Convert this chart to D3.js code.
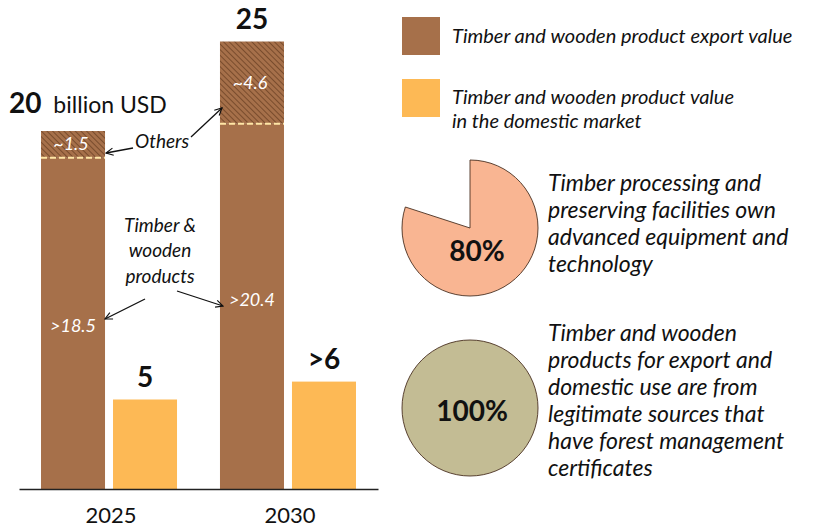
<!DOCTYPE html>
<html><head><meta charset="utf-8">
<script src="https://cdn.jsdelivr.net/npm/d3@7"></script>
<style>
body{margin:0;background:#fff;}
text{font-family:"Lato","Open Sans",sans-serif;}
</style></head>
<body><svg id="c" width="825" height="530"></svg>
<script>
// ---- data ----
const years = ["2025", "2030"];
const series = ["export", "domestic"];
const woodValues = [18.5, 20.4];
const otherValues = [1.5, 4.6];
const exportTotals = [20, 25];
const domesticValues = [5, 6];
const woodLabels = [">18.5", ">20.4"];
const otherLabels = ["~1.5", "~4.6"];
const totalLabels = ["20", "25"];
const domesticLabels = ["5", ">6"];
const legendItems = ["Timber and wooden product export value", "Timber and wooden product value|in the domestic market"];
const pieValues = [80, 20];
const pieLabel = "80%";
const pieText = ["Timber processing and", "preserving facilities own", "advanced equipment and", "technology"];
const circleValue = [100];
const circleLabel = "100%";
const circleText = ["Timber and wooden", "products for export and", "domestic use are from", "legitimate sources that", "have forest management", "certificates"];

const C_BROWN = "#A6704A", C_HATCH = "#6E4325", C_YELLOW = "#FDB955", C_PIE = "#F9B592", C_CIRC = "#C3BC94";

const svg = d3.select("#c");
svg.append("rect").attr("width", 825).attr("height", 530).attr("fill", "#fff");

const defs = svg.append("defs");
const pat = defs.append("pattern").attr("id", "hatch").attr("patternUnits", "userSpaceOnUse")
  .attr("width", 4).attr("height", 4).attr("patternTransform", "rotate(-45)");
pat.append("rect").attr("width", 4).attr("height", 4).attr("fill", C_BROWN);
pat.append("line").attr("x1", 0).attr("y1", 0).attr("x2", 0).attr("y2", 4)
  .attr("stroke", C_HATCH).attr("stroke-width", 1.6);
defs.append("marker").attr("id", "arr").attr("viewBox", "0 0 10 10").attr("refX", 9).attr("refY", 5)
  .attr("markerWidth", 9).attr("markerHeight", 9).attr("markerUnits", "userSpaceOnUse").attr("orient", "auto")
  .append("path").attr("d", "M1,1 L9,5 L1,9").attr("fill", "none").attr("stroke", "#111").attr("stroke-width", 1.3);

// ---- scales ----
const x0 = d3.scaleBand().domain(years).range([19, 378]).paddingInner(0.24).paddingOuter(0.123);
const x1 = d3.scaleBand().domain(series).range([0, x0.bandwidth()]).paddingInner(0.111);
const y = d3.scaleLinear().domain([0, 25]).range([489, 41.5]);

const g = svg.append("g");
// export bars: wood part
g.selectAll(".wood").data(years).join("rect")
  .attr("x", d => x0(d) + x1("export")).attr("width", x1.bandwidth())
  .attr("y", (d, i) => y(woodValues[i])).attr("height", (d, i) => y(0) - y(woodValues[i]))
  .attr("fill", C_BROWN);
// others part hatched
g.selectAll(".oth").data(years).join("rect")
  .attr("x", d => x0(d) + x1("export")).attr("width", x1.bandwidth())
  .attr("y", (d, i) => y(woodValues[i] + otherValues[i])).attr("height", (d, i) => y(woodValues[i]) - y(woodValues[i] + otherValues[i]))
  .attr("fill", "url(#hatch)");
g.selectAll(".dash").data(years).join("line")
  .attr("x1", d => x0(d) + x1("export")).attr("x2", d => x0(d) + x1("export") + x1.bandwidth())
  .attr("y1", (d, i) => y(woodValues[i])).attr("y2", (d, i) => y(woodValues[i]))
  .attr("stroke", "#FFE6A6").attr("stroke-width", 2).attr("stroke-dasharray", "6,3");
// domestic
g.selectAll(".dom").data(years).join("rect")
  .attr("x", d => x0(d) + x1("domestic")).attr("width", x1.bandwidth())
  .attr("y", (d, i) => y(domesticValues[i])).attr("height", (d, i) => y(0) - y(domesticValues[i]))
  .attr("fill", C_YELLOW);

// axis
const ax = svg.append("g").attr("transform", `translate(0,${y(0)})`)
  .call(d3.axisBottom(x0).tickSize(0).tickPadding(18));
ax.select(".domain").attr("stroke", "#222").attr("stroke-width", 1.5);
ax.selectAll(".tick text").attr("font-size", 22).attr("fill", "#111").attr("font-family", "Lato, sans-serif").attr("dx", 2);

// value labels
const ecx = d => x0(d) + x1("export") + x1.bandwidth() / 2;
const dcx = d => x0(d) + x1("domestic") + x1.bandwidth() / 2;
g.selectAll(".wl").data(years).join("text")
  .attr("x", ecx).attr("y", (d, i) => i === 0 ? 332 : 306)
  .attr("text-anchor", "middle").attr("fill", "#fff").attr("font-style", "italic").attr("font-size", 18)
  .text((d, i) => woodLabels[i]);
g.selectAll(".ol").data(years).join("text")
  .attr("x", d => ecx(d) - 2).attr("y", (d, i) => (y(woodValues[i]) + y(woodValues[i] + otherValues[i])) / 2 + 6)
  .attr("text-anchor", "middle").attr("fill", "#fff").attr("font-style", "italic").attr("font-size", 18)
  .text((d, i) => otherLabels[i]);
// totals
const t0 = g.append("text").attr("x", 9).attr("y", y(exportTotals[0]) - 18).attr("fill", "#111");
t0.append("tspan").attr("font-weight", "bold").attr("font-size", 28).text(totalLabels[0]);
t0.append("tspan").attr("font-size", 23).attr("dx", 6).text(" billion USD");
g.append("text").attr("x", ecx(years[1])).attr("y", y(exportTotals[1]) - 13)
  .attr("text-anchor", "middle").attr("font-weight", "bold").attr("font-size", 28).attr("fill", "#111").text(totalLabels[1]);
g.selectAll(".dl").data(years).join("text")
  .attr("x", dcx).attr("y", (d, i) => y(domesticValues[i]) - 13)
  .attr("text-anchor", "middle").attr("font-weight", "bold").attr("font-size", 28).attr("fill", "#111")
  .text((d, i) => domesticLabels[i]);

// annotations
const ann = svg.append("g").attr("fill", "#111").attr("font-style", "italic").attr("font-size", 19);
ann.append("text").attr("x", 135).attr("y", 148).text("Others");
[["Timber &", 232], ["wooden", 257], ["products", 283]].forEach(([t, yy]) =>
  ann.append("text").attr("x", 160).attr("y", yy).attr("text-anchor", "middle").text(t));
const arrows = [[133, 148, 106, 153], [191, 137, 222, 108], [145, 299, 105, 319], [177, 291, 223, 306]];
svg.append("g").selectAll("line").data(arrows).join("line")
  .attr("x1", d => d[0]).attr("y1", d => d[1]).attr("x2", d => d[2]).attr("y2", d => d[3])
  .attr("stroke", "#111").attr("stroke-width", 1.3).attr("marker-end", "url(#arr)");

// legend
const lg = svg.append("g");
const lgColors = [C_BROWN, C_YELLOW];
const lgY = [17, 79];
legendItems.forEach((t, i) => {
  lg.append("rect").attr("x", 402).attr("y", lgY[i]).attr("width", 38).attr("height", 38).attr("fill", lgColors[i]);
  t.split("|").forEach((ln, j) =>
    lg.append("text").attr("x", 452).attr("y", lgY[i] + 26 + (i === 0 ? 0 : -1) + j * 24)
      .attr("font-style", "italic").attr("font-size", 20).attr("fill", "#111").text(ln));
});

// pie
const pcx = 470, pcy = 228, r = 68;
const pie = d3.pie().sort(null)(pieValues);
const arc = d3.arc().innerRadius(0).outerRadius(r);
svg.append("path").attr("transform", `translate(${pcx},${pcy})`).attr("d", arc(pie[0]))
  .attr("fill", C_PIE).attr("stroke", "#4a3020").attr("stroke-width", 0.9);
svg.append("text").attr("x", pcx + 7).attr("y", 261).attr("text-anchor", "middle")
  .attr("font-weight", "bold").attr("font-size", 28).attr("fill", "#111").text(pieLabel);
pieText.forEach((t, i) => svg.append("text").attr("x", 548).attr("y", 191 + i * 27)
  .attr("font-style", "italic").attr("font-size", 23).attr("fill", "#111").text(t));

// full circle (100%)
const ccx = 470, ccy = 408;
const pie2 = d3.pie()(circleValue);
svg.append("path").attr("transform", `translate(${ccx},${ccy})`).attr("d", arc(pie2[0]))
  .attr("fill", C_CIRC).attr("stroke", "#4a3020").attr("stroke-width", 0.9);
svg.append("text").attr("x", ccx + 2).attr("y", 421).attr("text-anchor", "middle")
  .attr("font-weight", "bold").attr("font-size", 28).attr("fill", "#111").text(circleLabel);
circleText.forEach((t, i) => svg.append("text").attr("x", 548).attr("y", 341 + i * 27)
  .attr("font-style", "italic").attr("font-size", 23).attr("fill", "#111").text(t));
</script></body></html>
